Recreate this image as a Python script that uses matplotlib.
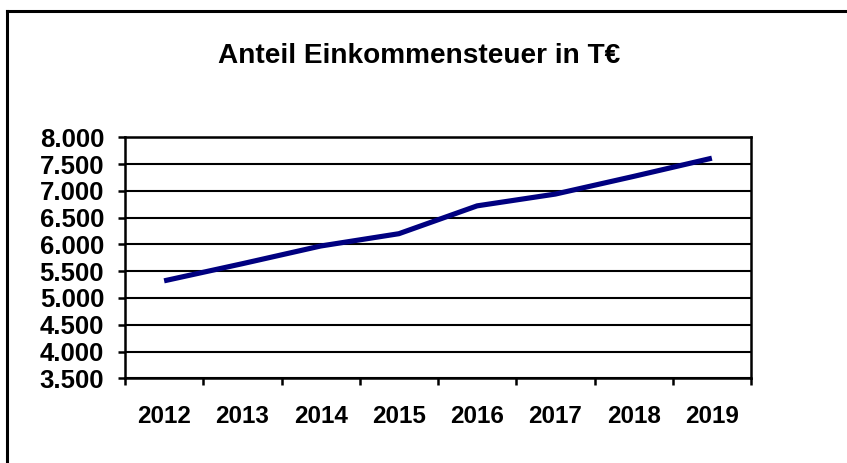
import numpy as np
import matplotlib.pyplot as plt
from matplotlib.lines import Line2D
from matplotlib.ticker import FuncFormatter

plt.rcParams['font.family'] = ['Liberation Sans', 'DejaVu Sans']

# Daten
jahre = ['2012', '2013', '2014', '2015', '2016', '2017', '2018', '2019']
einkommensteuer = [5320, 5640, 5970, 6200, 6720, 6940, 7270, 7610]
y_ticks = [3500, 4000, 4500, 5000, 5500, 6000, 6500, 7000, 7500, 8000]

W, H = 847, 463
fig = plt.figure(figsize=(W / 100, H / 100), dpi=100)
ax = fig.add_axes([125 / W, 1 - 378.3 / H, (751 - 125) / W, (378.3 - 137.3) / H])

x = np.arange(len(jahre))
ax.plot(x, einkommensteuer, color='#000080', linewidth=3.7, solid_capstyle='butt', zorder=3)

ax.set_xlim(-0.5, len(jahre) - 0.5)
ax.set_ylim(y_ticks[0], y_ticks[-1])

# Tick-Striche zwischen den Kategorien, Beschriftung in der Mitte
ax.set_xticks(np.arange(-0.5, len(jahre), 1.0))
ax.set_xticklabels([])
ax.set_xticks(x, minor=True)
ax.set_xticklabels(jahre, minor=True, fontsize=17.5, fontweight='bold')
ax.tick_params(axis='x', which='major', direction='out', length=5, width=1.8, color='black')
ax.tick_params(axis='x', which='minor', length=0, pad=19)

ax.set_yticks(y_ticks)
ax.yaxis.set_major_formatter(FuncFormatter(lambda v, p: f'{int(v):,}'.replace(',', '.')))
for lbl in ax.get_yticklabels():
    lbl.set_fontweight('bold')
ax.tick_params(axis='y', direction='out', length=5, width=1.8, labelsize=18.5, pad=10)

ax.grid(axis='y', color='black', linewidth=1.5)
for s in ax.spines.values():
    s.set_color('black')
    s.set_linewidth(1.8)
ax.set_axisbelow(True)

fig.text(419 / W, 1 - 56 / H, 'Anteil Einkommensteuer in T€', ha='center', va='center',
         fontsize=20.2, fontweight='bold')

# Rahmen um das Diagramm (rechts/unten abgeschnitten)
fig.add_artist(Line2D([7 / W, 7 / W], [1 - 11 / H, -0.1], transform=fig.transFigure,
                      color='black', linewidth=2.2))
fig.add_artist(Line2D([7 / W, 1.1], [1 - 11 / H, 1 - 11 / H], transform=fig.transFigure,
                      color='black', linewidth=2.2))

fig.savefig('out.png', dpi=100)
